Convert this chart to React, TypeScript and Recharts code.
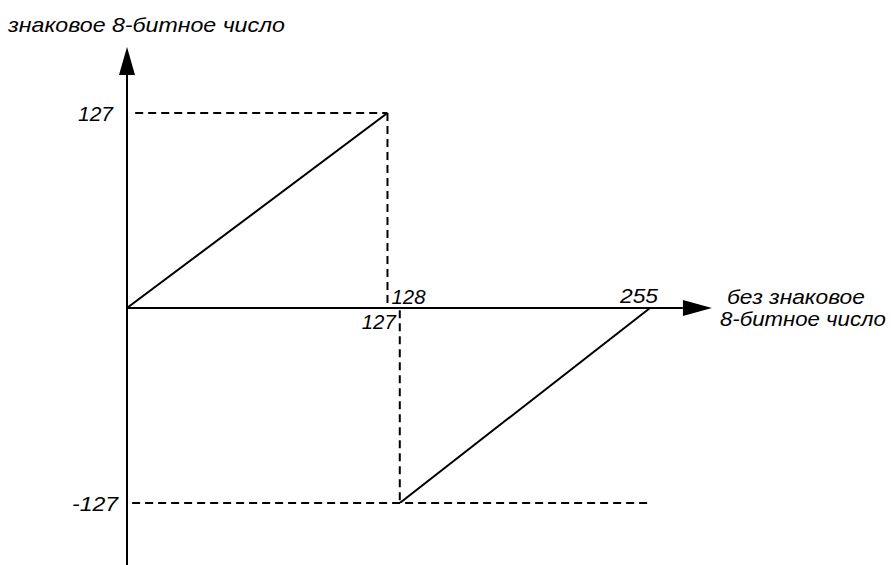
import { ComposedChart, Line, XAxis, YAxis, ReferenceLine, ReferenceDot } from 'recharts';

// данные схемы: беззнаковое -> знаковое
const upperRamp = [
  { x: 0, y: 0 },
  { x: 127, y: 127 },
];
const lowerRamp = [
  { x: 133, y: -127 },
  { x: 255, y: 0 },
];

const yLevels = [127, -127];
const yLabels = ['127', '-127'];
const xBreak = [127, 133];
const xLabels = ['128', '127', '255'];
const xMax = 255;

const yTitle = 'знаковое 8-битное число';
const xTitle = ['без знаковое', '8-битное число'];

const font = { fontFamily: '"Liberation Sans", Arial, sans-serif', fontStyle: 'italic', fontSize: 21, fill: '#000' };
const dash = '8 5';

// текст, привязанный к точке на шкале
const txt = (s: string, dx: number, dy: number, len: number, anchor = 'start') => (p: any) => (
  <text
    x={p.cx + dx}
    y={p.cy + dy}
    textAnchor={anchor}
    textLength={len}
    lengthAdjust="spacingAndGlyphs"
    style={font}
  >
    {s}
  </text>
);

const arrowUp = (p: any) => (
  <polygon points={`${p.cx},${p.cy} ${p.cx - 8},${p.cy + 28} ${p.cx + 8},${p.cy + 28}`} fill="#000" />
);
const arrowRight = (p: any) => (
  <polygon points={`${p.cx},${p.cy} ${p.cx - 29},${p.cy - 8} ${p.cx - 29},${p.cy + 8}`} fill="#000" />
);

export default function App() {
  return (
    <div style={{ position: 'absolute', left: 0, top: 0, width: 891, height: 565, background: '#fff' }}>
      <ComposedChart width={891} height={565} margin={{ top: 113, right: 241, bottom: 62, left: 127 }}>
        <XAxis type="number" dataKey="x" domain={[0, xMax]} allowDataOverflow hide />
        <YAxis type="number" dataKey="y" domain={[-127, 127]} allowDataOverflow hide />

        {/* оси */}
        <ReferenceLine segment={[{ x: 0, y: -167.4 }, { x: 0, y: 152 }]} stroke="#000" strokeWidth={2} ifOverflow="visible" />
        <ReferenceLine segment={[{ x: 0, y: 0 }, { x: 271, y: 0 }]} stroke="#000" strokeWidth={2} ifOverflow="visible" />
        <ReferenceDot x={0} y={170} r={0} shape={arrowUp} ifOverflow="visible" />
        <ReferenceDot x={285.2} y={0} r={0} shape={arrowRight} ifOverflow="visible" />

        {/* пунктир */}
        <ReferenceLine segment={[{ x: 4, y: yLevels[0] }, { x: xBreak[0], y: yLevels[0] }]} stroke="#000" strokeWidth={2} strokeDasharray={dash} ifOverflow="visible" />
        <ReferenceLine segment={[{ x: xBreak[0], y: yLevels[0] }, { x: xBreak[0], y: 0 }]} stroke="#000" strokeWidth={2} strokeDasharray={dash} ifOverflow="visible" />
        <ReferenceLine segment={[{ x: xBreak[1], y: -1.5 }, { x: xBreak[1], y: yLevels[1] }]} stroke="#000" strokeWidth={2} strokeDasharray={dash} ifOverflow="visible" />
        <ReferenceLine segment={[{ x: 2.5, y: yLevels[1] }, { x: 254, y: yLevels[1] }]} stroke="#000" strokeWidth={2} strokeDasharray={dash} ifOverflow="visible" />

        <Line data={upperRamp} dataKey="y" stroke="#000" strokeWidth={2} dot={false} isAnimationActive={false} />
        <Line data={lowerRamp} dataKey="y" stroke="#000" strokeWidth={2} dot={false} isAnimationActive={false} />

        {/* подписи */}
        <ReferenceDot x={0} y={yLevels[0]} r={0} shape={txt(yLabels[0], -14, 8, 35, 'end')} ifOverflow="visible" />
        <ReferenceDot x={0} y={yLevels[1]} r={0} shape={txt(yLabels[1], -9, 8, 46, 'end')} ifOverflow="visible" />
        <ReferenceDot x={xBreak[0]} y={0} r={0} shape={txt(xLabels[0], 4, -4, 34)} ifOverflow="visible" />
        <ReferenceDot x={xBreak[1]} y={0} r={0} shape={txt(xLabels[1], -4, 21, 34, 'end')} ifOverflow="visible" />
        <ReferenceDot x={xMax} y={0} r={0} shape={txt(xLabels[2], -11, -5, 38, 'middle')} ifOverflow="visible" />
        <ReferenceDot x={285.2} y={0} r={0} shape={txt(xTitle[0], 15, -4, 138)} ifOverflow="visible" />
        <ReferenceDot x={285.2} y={0} r={0} shape={txt(xTitle[1], 8, 18, 166)} ifOverflow="visible" />
        <ReferenceDot x={0} y={170} r={0} shape={txt(yTitle, -119, -15, 277)} ifOverflow="visible" />
      </ComposedChart>
    </div>
  );
}
